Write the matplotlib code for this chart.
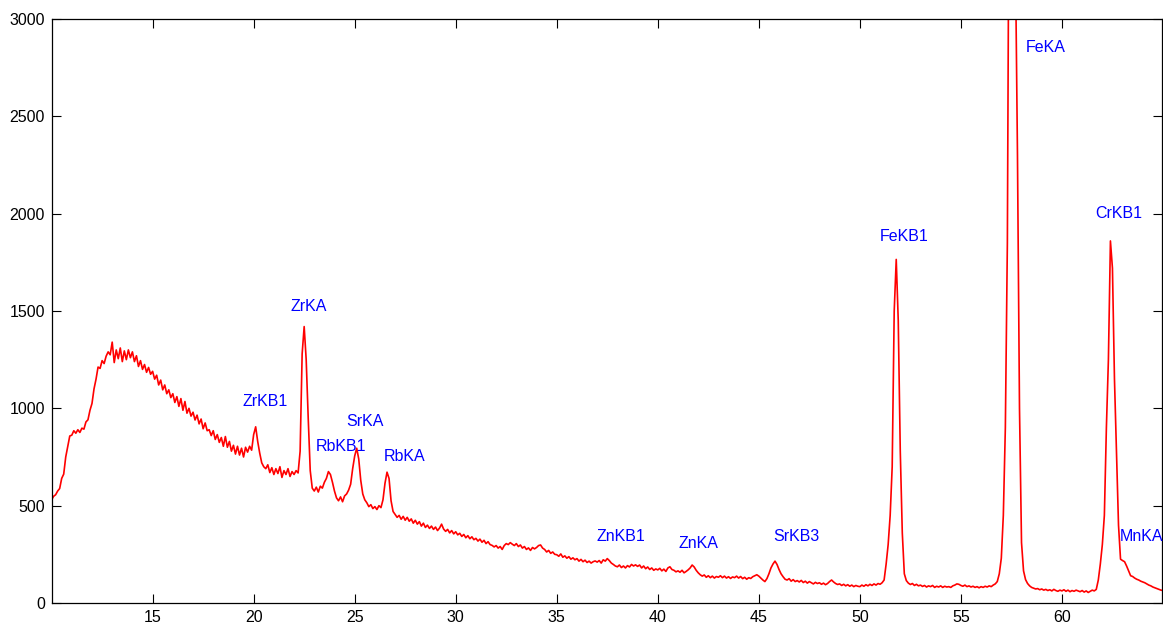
import numpy as np
import matplotlib.pyplot as plt

plt.rcParams['font.family'] = ['Liberation Sans', 'DejaVu Sans']

# Energy axis: channels every 0.1 from 10.0 to 65.0
energy = np.round(np.arange(10.0, 65.05, 0.1), 1)

# Counts, one row per unit of energy
counts = [
    530, 548, 556, 575, 588, 640, 662, 750, 805, 858,            # 10
    862, 885, 872, 890, 876, 898, 893, 930, 941, 990,            # 11
    1025, 1100, 1150, 1212, 1205, 1245, 1230, 1268, 1290, 1275,  # 12
    1340, 1235, 1300, 1255, 1310, 1240, 1295, 1250, 1300, 1260,  # 13
    1290, 1240, 1270, 1215, 1245, 1200, 1225, 1185, 1210, 1175,  # 14
    1190, 1150, 1170, 1120, 1145, 1095, 1120, 1075, 1095, 1055,  # 15
    1075, 1030, 1060, 1010, 1050, 990, 1035, 975, 1000, 960,     # 16
    980, 940, 965, 920, 945, 895, 925, 885, 890, 860,            # 17
    885, 840, 865, 825, 850, 805, 855, 800, 830, 780,            # 18
    810, 765, 805, 760, 795, 750, 800, 775, 805, 785,            # 19
    865, 905, 830, 770, 720, 700, 690, 710, 670, 695,            # 20
    660, 690, 665, 700, 645, 680, 660, 690, 650, 675,            # 21
    660, 680, 668, 780, 1280, 1420, 1250, 950, 680, 590,         # 22
    575, 595, 570, 600, 590, 620, 640, 675, 660, 620,            # 23
    575, 540, 525, 545, 520, 550, 560, 580, 610, 690,            # 24
    755, 795, 740, 630, 560, 530, 515, 495, 505, 485,            # 25
    495, 480, 500, 490, 530, 615, 672, 640, 525, 470,            # 26
    455, 440, 450, 430, 445, 425, 440, 420, 432, 410,            # 27
    425, 405, 418, 395, 410, 388, 400, 383, 395, 378,            # 28
    390, 372, 385, 405, 380, 368, 378, 360, 372, 355,            # 29
    366, 350, 358, 342, 352, 335, 346, 330, 340, 325,            # 30
    332, 318, 328, 312, 322, 305, 315, 300, 296, 288,            # 31
    295, 282, 290, 275, 295, 305, 300, 310, 302, 295,            # 32
    305, 290, 298, 282, 290, 275, 283, 270, 285, 278,            # 33
    285, 295, 298, 282, 275, 262, 270, 255, 262, 250,            # 34
    248, 240, 252, 235, 242, 230, 238, 225, 232, 222,            # 35
    228, 215, 224, 212, 220, 208, 215, 205, 212, 216,            # 36
    210, 218, 205, 222, 215, 228, 218, 205, 198, 190,            # 37
    186, 195, 182, 190, 180, 192, 185, 198, 190, 196,            # 38
    188, 195, 180, 190, 176, 185, 172, 180, 168, 175,            # 39
    170, 178, 165, 174, 162, 180, 186, 172, 168, 160,            # 40
    165, 158, 168, 155, 162, 170, 180, 195, 185, 168,            # 41
    155, 145, 138, 144, 132, 140, 130, 138, 128, 136,            # 42
    132, 140, 130, 138, 128, 135, 126, 134, 130, 138,            # 43
    128, 136, 125, 132, 122, 130, 126, 135, 140, 145,            # 44
    138, 128, 118, 110, 125, 150, 180, 200, 215, 198,            # 45
    172, 150, 135, 122, 118, 125, 112, 120, 110, 115,            # 46
    108, 116, 105, 112, 102, 110, 104, 98, 106, 100,             # 47
    104, 96, 102, 94, 100, 110, 118, 108, 100, 95,               # 48
    98, 90, 96, 88, 94, 86, 92, 84, 90, 86,                      # 49
    84, 92, 86, 94, 88, 96, 90, 98, 92, 100,                     # 50
    96, 104, 118, 200, 300, 450, 700, 1500, 1765, 1450,          # 51
    780, 360, 150, 115, 102, 95, 100, 90, 96, 88,                # 52
    92, 85, 90, 82, 88, 84, 90, 80, 86, 82,                      # 53
    88, 80, 86, 82, 84, 80, 88, 92, 98, 96,                      # 54
    90, 86, 92, 84, 88, 82, 86, 80, 84, 78,                      # 55
    84, 80, 86, 82, 88, 84, 92, 98, 110, 150,                    # 56
    230, 450, 900, 1850, 4200, 5200, 4500, 3300, 2300, 1000,     # 57
    310, 165, 120, 100, 88, 80, 76, 72, 74, 68,                  # 58
    72, 66, 70, 64, 68, 62, 70, 64, 60, 66,                      # 59
    62, 68, 60, 66, 58, 64, 60, 66, 62, 58,                      # 60
    64, 56, 62, 54, 60, 66, 62, 70, 118, 200,                    # 61
    300, 450, 900, 1250, 1860, 1720, 1150, 780, 400, 225,        # 62
    218, 212, 190, 165, 140, 136, 128, 122, 118, 112,            # 63
    108, 104, 98, 92, 88, 82, 78, 74, 70, 66,                    # 64
    64,                                                          # 65
]

# Peak labels
peak_names = ['ZrKB1', 'ZrKA', 'RbKB1', 'SrKA', 'RbKA', 'ZnKB1', 'ZnKA',
              'SrKB3', 'FeKB1', 'FeKA', 'CrKB1', 'MnKA']
peak_x = [19.46, 21.83, 23.07, 24.6, 26.44, 36.98, 41.04,
          45.69, 50.99, 58.22, 61.63, 62.87]
peak_y = [1037, 1525, 806, 930, 755, 339, 308,
          339, 1885, 2856, 2003, 344]

fig = plt.figure(figsize=(11.63, 6.27), dpi=100)
ax = fig.add_axes([0.0447, 0.0383, 0.9544, 0.9314])

ax.plot(energy, counts, color='#ff0000', linewidth=1.2)

for name, x, y in zip(peak_names, peak_x, peak_y):
    ax.text(x, y, name, color='#0000ff', fontsize=11.5, ha='left', va='center')

ax.set_xlim(10.02, 64.95)
ax.set_ylim(0, 3000)
ax.set_xticks(np.arange(15, 61, 5))
ax.set_yticks(np.arange(0, 3001, 500))
ax.tick_params(direction='in', length=6.5, width=0.8, top=True, right=True,
               labelsize=11.5, pad=5)
for s in ax.spines.values():
    s.set_linewidth(0.9)

fig.savefig('out.png', dpi=100)
